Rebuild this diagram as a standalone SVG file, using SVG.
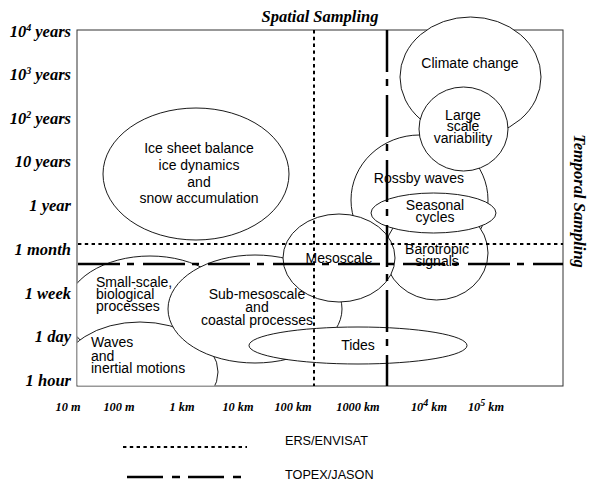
<svg xmlns="http://www.w3.org/2000/svg" width="591" height="483" viewBox="0 0 591 483">
<style>
.ax{font-family:"Liberation Serif","Times New Roman",serif;font-weight:bold;font-style:italic;font-size:16.5px;fill:#000}
.xl{font-family:"Liberation Serif","Times New Roman",serif;font-weight:bold;font-style:italic;font-size:12.3px;fill:#000;text-anchor:middle}
.t{font-family:"Liberation Sans",Arial,sans-serif;font-size:14px;fill:#000}
.c{text-anchor:middle}
.e{fill:#fff;stroke:#000;stroke-width:0.9}
.ers{stroke:#000;stroke-width:2;stroke-dasharray:3.4 3.4;fill:none}
.tj{stroke:#000;stroke-width:2.5;stroke-dasharray:42 7 7 9;fill:none}
.sup{font-size:10px}
</style>
<defs>
<clipPath id="plot"><rect x="77.5" y="30.5" width="485.5" height="355"/></clipPath>
</defs>
<rect id="frame" x="77" y="30" width="486" height="356" fill="#fff" stroke="#333" stroke-width="1"/>
<text class="ax" x="320" y="22" text-anchor="middle">Spatial Sampling</text>
<text class="ax" transform="translate(574,201) rotate(90)" text-anchor="middle">Temporal Sampling</text>
<g id="yaxis" class="ax" text-anchor="end">
<text x="71" y="37">10<tspan class="sup" dy="-6">4</tspan><tspan dy="6"> years</tspan></text>
<text x="71" y="80">10<tspan class="sup" dy="-6">3</tspan><tspan dy="6"> years</tspan></text>
<text x="71" y="124">10<tspan class="sup" dy="-6">2</tspan><tspan dy="6"> years</tspan></text>
<text x="71" y="167">10 years</text>
<text x="71" y="211">1 year</text>
<text x="71" y="255">1 month</text>
<text x="71" y="299">1 week</text>
<text x="71" y="342">1 day</text>
<text x="71" y="386">1 hour</text>
</g>
<g id="xaxis" class="xl">
<text x="68" y="411">10 m</text>
<text x="119" y="411">100 m</text>
<text x="182" y="411">1 km</text>
<text x="238" y="411">10 km</text>
<text x="293" y="411">100 km</text>
<text x="358" y="411">1000 km</text>
<text x="429" y="411">10<tspan class="sup" dy="-5">4</tspan><tspan dy="5"> km</tspan></text>
<text x="486" y="411">10<tspan class="sup" dy="-5">5</tspan><tspan dy="5"> km</tspan></text>
</g>
<g id="small-scale" clip-path="url(#plot)">
<ellipse class="e" cx="150" cy="310" rx="84" ry="54"/>
<text class="t" x="96" y="287">Small-scale,</text>
<text class="t" x="96" y="299">biological</text>
<text class="t" x="96" y="311">processes</text>
</g>
<g id="waves" clip-path="url(#plot)">
<ellipse class="e" cx="140" cy="372" rx="78" ry="50"/>
<text class="t" x="91" y="347">Waves</text>
<text class="t" x="91" y="361">and</text>
<text class="t" x="91" y="373">inertial motions</text>
</g>
<g id="sub-mesoscale">
<ellipse class="e" cx="255" cy="309" rx="87" ry="54"/>
<text class="t c" x="257" y="299">Sub-mesoscale</text>
<text class="t c" x="257" y="312">and</text>
<text class="t c" x="257" y="325">coastal processes</text>
</g>
<g id="tides">
<ellipse class="e" cx="358" cy="345.5" rx="109" ry="18.5"/>
<text class="t c" x="358" y="350">Tides</text>
</g>
<g id="ice-sheet">
<ellipse class="e" cx="196" cy="174" rx="93" ry="66"/>
<text class="t c" x="199" y="153">Ice sheet balance</text>
<text class="t c" x="199" y="170">ice dynamics</text>
<text class="t c" x="199" y="187">and</text>
<text class="t c" x="199" y="203">snow accumulation</text>
</g>
<g id="climate-change">
<ellipse class="e" cx="470.5" cy="77" rx="70.5" ry="60"/>
<text class="t c" x="470" y="68">Climate change</text>
</g>
<g id="rossby">
<ellipse class="e" cx="419.5" cy="200" rx="68.5" ry="65"/>
<text class="t c" x="419" y="183">Rossby waves</text>
</g>
<g id="large-scale">
<ellipse class="e" cx="463.5" cy="129" rx="44.5" ry="42"/>
<text class="t c" x="463" y="120">Large</text>
<text class="t c" x="463" y="131">scale</text>
<text class="t c" x="463" y="143">variability</text>
</g>
<g id="barotropic">
<ellipse class="e" cx="436.5" cy="253" rx="51.5" ry="47"/>
<text class="t c" x="437" y="254">Barotropic</text>
<text class="t c" x="437" y="266">signals</text>
</g>
<g id="seasonal">
<ellipse class="e" cx="433.5" cy="213" rx="62.5" ry="20"/>
<text class="t c" x="435" y="210">Seasonal</text>
<text class="t c" x="435" y="222">cycles</text>
</g>
<g id="mesoscale">
<ellipse class="e" cx="339" cy="258" rx="56" ry="44"/>
<text class="t c" x="339" y="263">Mesoscale</text>
</g>
<g id="connectors">
<line class="ers" x1="314" y1="30" x2="314" y2="386"/>
<line class="ers" x1="78" y1="244" x2="563" y2="244"/>
<line class="tj" x1="387" y1="30" x2="387" y2="386"/>
<line class="tj" x1="78" y1="264" x2="563" y2="264"/>
</g>
<g id="legend">
<line class="ers" x1="123" y1="447" x2="247" y2="447"/>
<line stroke="#000" stroke-width="2.5" stroke-dasharray="36 9 8 8" x1="127" y1="477" x2="242" y2="477"/>
<text class="t" x="285" y="445" style="font-size:12.7px">ERS/ENVISAT</text>
<text class="t" x="285" y="479" style="font-size:12.7px">TOPEX/JASON</text>
</g>
</svg>
